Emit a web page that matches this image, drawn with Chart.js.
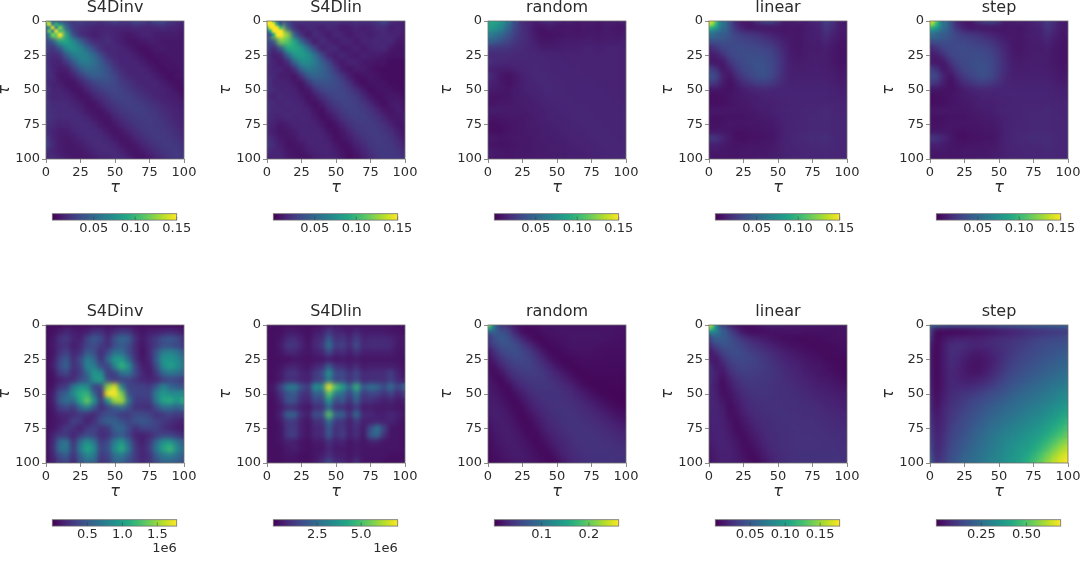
<!DOCTYPE html>
<html><head><meta charset="utf-8">
<script src="https://cdn.jsdelivr.net/npm/chart.js@4"></script>
<style>html,body{margin:0;padding:0;background:#fff;width:1080px;height:561px;overflow:hidden}canvas{position:absolute}</style>
</head><body>
<script>
const tauTicks=[0,25,50,75,100];
const titles=['S4Dinv','S4Dlin','random','linear','step'];
const topVmax=[0.15,0.15,0.15,0.15,0.15];
const bottomVmax=[1.776e6,7.08e6,0.263,0.178,0.69];
const topUnit=0.001;
const bottomUnit=[1e4,1e5,0.001,0.001,0.001];
const topCbTicks=[0.05,0.10,0.15];
const bottomCbTicks=[[0.5e6,1e6,1.5e6],[2.5e6,5e6],[0.1,0.2],[0.05,0.10,0.15],[0.25,0.50]];
const topInv=[
[110,60,40,30,25,30,25,25,20,25,30,25,25,35,30,25,35,35,25,20,15],
[60,150,110,50,25,20,18,15,15,15,15,15,15,18,15,15,15,18,15,15,12],
[35,110,150,85,35,20,15,12,15,18,15,12,10,12,15,15,12,12,12,12,10],
[30,40,85,90,70,48,28,18,18,20,15,12,8,8,10,12,12,10,10,10,10],
[30,22,38,70,78,68,50,32,20,15,18,15,12,8,6,8,10,12,10,10,10],
[25,18,20,42,62,68,64,50,32,20,16,15,15,12,8,6,8,8,10,10,10],
[22,15,14,24,42,60,62,55,42,28,20,15,15,15,12,8,6,8,8,10,10],
[25,15,12,12,26,42,52,50,45,36,25,18,15,15,15,12,8,6,8,8,10],
[22,18,10,10,14,26,38,44,43,38,30,22,17,15,15,15,12,8,6,8,10],
[18,15,12,8,8,14,22,30,34,35,32,26,22,18,15,15,15,12,8,6,8],
[25,15,15,12,8,8,15,22,27,30,31,28,25,21,18,15,15,14,12,8,6],
[22,15,17,15,12,8,8,15,20,25,28,29,28,25,21,18,15,14,13,12,8],
[25,18,18,18,15,12,8,8,14,20,24,27,28,27,25,22,19,16,14,13,12],
[22,20,18,18,18,15,10,8,8,14,20,24,26,27,27,25,22,19,16,14,13],
[25,20,18,18,18,18,15,10,8,8,15,20,23,25,26,26,24,21,18,15,14],
[22,18,15,15,18,18,18,15,10,8,10,15,19,23,25,26,25,23,20,17,14],
[20,15,12,12,15,18,18,18,15,10,8,10,15,19,23,25,25,24,22,19,16],
[28,15,12,10,12,15,18,18,18,15,10,8,10,15,19,22,25,25,24,21,18],
[30,18,12,10,10,12,15,18,18,18,15,10,8,10,15,19,22,25,25,24,20],
[20,15,12,10,10,10,12,15,18,18,18,14,10,8,10,15,19,22,25,25,23],
[15,20,15,12,10,10,10,12,14,15,18,18,14,10,8,10,15,19,23,25,25]];
const topLin=[
[150,110,45,30,20,25,20,20,25,20,22,20,20,22,20,20,25,35,20,15,12],
[100,150,130,45,20,12,18,15,12,18,15,10,12,15,12,14,18,18,12,15,12],
[35,120,150,125,45,20,10,20,15,10,18,15,10,14,15,12,15,18,15,15,10],
[30,40,120,110,90,50,25,10,20,15,10,15,15,10,15,15,18,15,18,10,10],
[30,18,40,90,92,82,55,30,12,18,18,10,12,15,10,14,15,18,10,8,8],
[25,12,15,45,78,82,76,55,32,14,12,18,12,10,14,12,12,10,8,8,8],
[22,15,10,18,48,72,72,62,45,30,14,10,15,14,10,10,8,8,5,5,5],
[20,15,15,10,20,48,60,56,48,38,24,12,8,12,12,8,6,5,5,5,5],
[20,18,12,12,8,22,42,48,45,40,32,22,12,6,8,10,8,5,5,5,5],
[25,15,15,14,10,8,22,36,38,37,34,28,20,10,5,8,8,8,5,5,5],
[22,18,15,15,14,8,10,22,30,33,33,30,26,19,11,5,8,8,8,6,5],
[18,14,18,15,15,12,6,12,20,27,30,31,29,25,18,10,6,8,10,10,6],
[22,18,15,18,15,15,10,6,12,20,26,29,29,27,23,17,10,6,10,12,8],
[22,16,18,15,18,15,14,8,6,14,20,26,28,28,26,22,16,10,8,12,10],
[20,16,14,18,15,16,15,12,6,8,14,22,26,27,27,25,21,15,10,10,12],
[18,14,10,12,15,15,15,14,10,5,8,15,21,25,26,26,24,20,14,9,10],
[18,12,8,10,12,15,15,15,14,8,6,10,16,22,25,26,26,23,19,13,8],
[22,15,10,8,10,14,15,15,15,12,6,8,12,18,22,25,26,25,22,17,10],
[25,18,12,8,8,10,14,15,15,14,10,6,8,14,18,23,25,25,24,20,14],
[20,15,15,10,8,8,12,14,15,15,12,8,6,10,15,20,24,25,25,23,18],
[12,15,15,12,10,8,8,12,14,15,14,10,6,8,12,18,22,25,25,25,22]];
const topRandom=[
[88,88,78,58,34,20,16,12,16,18,14,12,12,10,12,12,10,12,12,12,12],
[84,78,68,48,30,20,15,9,8,11,9,9,10,8,10,10,8,11,10,8,10],
[64,58,50,38,27,20,16,10,7,7,8,9,10,9,10,11,10,11,11,10,12],
[48,42,36,30,23,19,16,12,9,9,10,11,12,11,12,12,11,12,12,12,13],
[24,24,23,22,19,18,16,14,12,12,12,13,13,13,14,14,13,14,14,14,14],
[18,18,18,18,17,17,16,16,15,15,14,14,14,14,14,14,14,14,14,14,14],
[20,18,17,16,16,16,16,16,16,15,15,15,14,14,14,14,14,14,14,14,14],
[14,13,12,12,14,15,16,17,16,16,15,15,15,15,14,14,14,14,14,14,14],
[20,14,9,7,10,13,15,17,17,16,16,15,15,15,15,15,14,14,14,14,14],
[15,13,10,7,10,13,15,16,17,17,16,16,15,15,15,15,15,14,14,14,14],
[12,11,10,9,11,13,14,15,16,17,16,16,15,15,15,15,15,15,14,14,14],
[9,8,8,9,11,12,13,14,15,16,16,16,16,15,15,15,15,15,15,14,14],
[8,9,10,10,11,12,12,13,14,15,15,16,16,16,15,15,15,15,15,15,14],
[12,12,12,11,11,11,12,13,13,14,15,15,16,16,16,15,15,15,15,15,15],
[9,8,9,10,10,10,11,12,13,14,14,15,15,16,16,16,15,15,15,15,15],
[7,6,7,8,9,10,11,12,13,13,14,14,15,15,16,16,16,15,15,15,15],
[7,6,6,8,9,10,11,11,12,13,13,14,14,15,15,16,16,16,15,15,15],
[10,10,9,9,10,10,10,11,12,12,13,13,14,14,15,15,16,16,16,15,15],
[9,8,7,8,9,10,10,11,11,12,12,13,13,14,14,15,15,16,16,16,15],
[13,11,10,9,10,10,10,11,11,12,12,12,13,13,14,14,15,15,16,16,16],
[10,9,9,9,10,10,10,11,11,11,12,12,13,13,13,14,14,15,15,16,17]];
const topLinear=[
[150,100,70,36,16,10,10,22,32,34,25,12,12,14,12,16,18,28,22,12,10],
[100,95,62,38,20,12,8,9,8,8,9,9,10,9,11,13,14,24,18,11,10],
[55,55,48,38,30,26,24,22,18,15,12,10,10,9,11,13,13,20,14,10,10],
[36,36,36,34,32,31,29,27,25,22,18,13,10,9,11,12,12,16,11,9,8],
[16,22,30,32,34,34,33,32,30,28,22,15,10,9,11,12,11,13,10,8,8],
[12,12,20,30,33,35,35,35,34,31,25,17,11,10,11,12,12,12,10,8,8],
[12,8,10,22,30,33,36,37,36,33,26,18,12,11,12,12,12,12,10,8,9],
[30,22,8,14,25,31,34,37,38,34,26,18,13,12,12,13,13,12,11,9,10],
[38,34,14,8,18,26,31,35,37,33,25,17,13,13,13,13,13,13,12,10,11],
[28,24,12,6,12,19,23,27,28,26,21,16,14,14,14,14,14,14,13,11,12],
[9,9,8,7,9,12,14,16,17,16,15,15,15,15,15,15,15,15,14,13,13],
[6,6,7,8,10,11,12,13,14,14,15,15,15,15,15,15,15,15,14,14,14],
[7,6,6,8,9,10,11,13,13,13,14,14,15,15,15,15,15,16,15,15,15],
[10,10,10,9,9,9,10,11,12,13,14,15,15,15,16,16,16,18,16,15,15],
[8,7,7,8,8,8,9,10,11,11,13,14,15,15,16,17,17,18,16,16,16],
[8,7,8,9,9,9,9,9,10,10,12,14,15,16,16,17,17,17,16,16,16],
[9,9,9,9,7,7,8,8,9,9,11,14,15,16,16,17,17,17,16,16,16],
[26,24,16,10,7,6,7,7,8,8,11,14,16,17,18,19,18,20,17,16,16],
[13,13,11,9,8,8,9,9,10,10,12,14,15,16,16,17,17,18,17,16,16],
[10,10,10,9,9,10,10,10,10,11,12,14,15,15,16,16,16,17,16,16,16],
[9,8,9,9,9,10,10,11,11,12,13,14,15,15,16,16,16,17,16,16,16]];
const topStep=[
[145,98,68,36,16,10,10,22,31,33,24,12,12,14,12,16,18,27,21,12,10],
[98,92,60,38,20,12,8,9,8,8,9,9,10,9,11,13,14,23,17,11,10],
[55,55,47,38,30,26,24,22,18,15,12,10,10,9,11,13,13,19,14,10,10],
[36,36,36,34,32,31,29,27,25,22,17,13,10,9,11,12,12,15,11,9,8],
[15,22,30,32,34,34,33,32,30,27,21,15,10,9,11,12,11,13,10,8,8],
[12,12,20,30,33,34,34,34,33,30,24,17,11,10,11,12,12,12,10,8,8],
[12,8,10,22,30,32,35,36,35,32,25,18,12,11,12,12,12,12,10,8,9],
[29,21,8,14,25,31,33,36,37,33,25,18,13,12,12,13,13,12,11,9,10],
[36,33,14,8,18,26,31,34,36,32,24,17,13,13,13,13,13,13,12,10,11],
[27,23,12,6,12,19,23,27,27,25,20,16,14,14,14,14,14,14,13,11,12],
[9,9,8,7,9,12,14,16,17,16,15,15,15,15,15,15,15,15,14,13,13],
[6,6,7,8,10,11,12,13,14,14,15,15,15,15,15,15,15,15,14,14,14],
[7,6,6,8,9,10,11,13,13,13,14,14,15,15,15,15,15,16,15,15,15],
[10,10,10,9,9,9,10,11,12,13,14,15,15,15,16,16,16,17,16,15,15],
[8,7,7,8,8,8,9,10,11,11,13,14,15,15,16,17,17,17,16,16,16],
[8,7,8,9,9,9,9,9,10,10,12,14,15,16,16,17,17,17,16,16,16],
[9,9,9,9,7,7,8,8,9,9,11,14,15,16,16,17,17,17,16,16,16],
[25,23,16,10,7,6,7,7,8,8,11,14,16,17,18,19,18,19,17,16,16],
[13,13,11,9,8,8,9,9,10,10,12,14,15,16,16,17,17,18,17,16,16],
[10,10,10,9,9,10,10,10,10,11,12,14,15,15,16,16,16,17,16,16,16],
[9,8,9,9,9,10,10,11,11,12,13,14,15,15,16,16,16,17,16,16,16]];
const botInv=[
[5,5,5,8,8,8,8,8,8,8,8,8,8,8,6,6,6,6,6,5,5],
[6,8,14,20,15,12,15,25,25,15,22,30,28,15,10,14,15,18,20,18,12],
[6,10,25,30,18,15,35,50,40,20,45,60,52,25,12,22,30,45,50,42,25],
[6,12,22,25,14,20,35,42,30,22,42,50,42,20,10,20,30,42,42,38,28],
[6,10,25,35,18,25,50,42,22,40,65,65,40,22,8,20,45,75,80,70,50],
[6,12,35,50,22,40,75,60,25,60,95,95,60,25,10,18,50,90,90,85,65],
[6,14,40,55,25,35,80,75,40,35,80,115,90,35,15,14,40,85,100,88,70],
[6,10,30,38,20,30,60,95,85,30,35,65,70,40,20,12,28,60,70,65,55],
[6,8,15,20,22,40,50,90,100,40,30,35,35,28,20,18,20,32,38,35,30],
[6,10,28,32,70,90,85,35,35,145,170,80,35,35,35,30,50,80,60,50,45],
[6,15,45,55,85,110,115,60,25,178,178,140,45,35,35,35,75,95,85,85,85],
[6,15,50,65,60,105,135,90,30,90,150,155,70,30,30,30,70,105,110,90,110],
[6,12,32,40,30,60,80,50,22,35,50,65,45,25,25,22,40,65,65,55,65],
[6,10,18,20,22,30,25,20,35,45,40,30,30,40,40,35,25,30,35,30,30],
[6,10,14,18,35,30,15,25,45,55,55,45,35,45,50,45,35,30,25,20,15],
[6,10,18,30,25,15,30,35,25,30,55,60,40,25,35,35,35,25,20,15,12],
[6,18,30,28,18,30,40,35,22,25,45,50,35,18,15,20,30,35,35,30,20],
[6,20,60,70,25,65,90,70,30,40,75,95,60,25,15,28,60,90,95,70,50],
[6,22,65,72,30,75,105,85,35,45,85,110,70,30,18,30,70,100,120,85,60],
[6,18,40,50,25,55,80,70,30,35,65,70,50,30,18,25,50,70,75,65,50],
[6,15,30,35,20,45,60,55,25,30,55,55,40,30,20,25,40,55,55,50,40]];
const botLin=[
[3,3,3,3,3,3,3,3,4,5,5,4,4,4,4,4,4,4,4,3,3],
[3,3,3,5,5,4,3,5,6,12,7,7,5,8,5,5,5,5,4,4,3],
[3,3,4,8,9,6,3,7,9,20,10,11,7,13,7,8,8,8,7,5,4],
[3,3,5,11,11,7,4,8,11,27,12,14,8,17,8,9,9,9,8,5,4],
[3,3,4,7,8,5,4,6,7,16,8,9,6,10,6,6,6,6,6,4,4],
[3,3,3,3,4,4,3,4,4,6,4,5,4,5,4,4,4,4,4,4,3],
[3,3,4,6,7,5,4,7,9,20,10,9,6,9,5,6,6,6,6,5,3],
[3,3,5,10,11,7,6,12,16,36,16,16,10,15,8,9,9,9,13,7,4],
[3,3,5,9,9,7,6,12,14,30,14,16,10,15,8,9,9,9,13,8,6],
[3,5,14,28,30,18,12,36,34,71,50,40,22,46,20,26,24,16,26,14,24],
[3,4,10,18,20,11,9,22,20,52,30,24,14,28,12,15,14,10,14,8,12],
[3,3,7,18,18,9,7,16,14,38,16,20,10,22,9,10,8,6,8,5,6],
[3,3,5,9,9,6,4,9,10,24,10,10,6,12,5,6,5,5,5,4,4],
[3,3,7,22,22,9,6,18,16,52,22,22,9,26,8,8,6,6,8,6,4],
[3,3,5,12,12,6,4,10,10,26,12,11,6,12,6,6,7,6,7,5,3],
[3,3,4,11,12,6,4,8,8,20,9,12,6,10,5,16,28,14,4,4,3],
[3,3,4,12,13,6,4,8,8,20,9,13,6,10,4,20,24,10,4,4,3],
[3,3,4,6,6,4,3,5,5,10,6,7,4,6,4,6,6,4,4,4,3],
[3,3,3,5,6,4,3,4,4,8,5,5,4,5,4,4,4,4,4,4,3],
[3,3,3,4,4,3,3,4,6,10,6,6,4,6,4,4,4,4,3,3,3],
[3,3,3,4,4,3,3,5,9,16,9,8,5,10,4,4,4,3,3,3,3]];
const botRandom=[
[263,110,50,30,14,10,10,12,14,14,14,14,14,14,14,14,14,14,14,13,13],
[100,92,72,50,26,10,6,8,12,14,15,15,15,15,15,15,15,14,14,13,13],
[52,70,72,66,46,28,14,6,7,10,12,14,15,15,15,15,15,14,13,12,12],
[32,50,64,66,60,46,32,18,7,7,10,12,14,14,14,14,13,12,11,11,11],
[16,36,52,60,62,56,46,32,18,7,6,9,11,12,12,12,11,10,10,10,10],
[10,24,40,50,56,56,50,40,28,16,8,5,7,9,10,10,10,9,9,9,9],
[12,12,28,40,48,50,50,44,36,26,16,9,5,6,8,8,8,8,8,8,8],
[14,8,16,30,40,44,46,46,42,34,26,17,10,5,6,7,7,7,7,7,7],
[18,10,6,20,32,38,42,42,42,38,32,25,17,10,5,5,6,6,6,6,6],
[20,14,8,7,22,30,36,40,40,40,37,32,26,18,11,6,5,5,5,5,5],
[20,17,11,6,12,22,30,36,38,38,38,35,31,25,19,12,7,5,4,4,4],
[20,20,15,9,6,15,24,31,36,38,38,37,35,30,25,20,14,9,6,4,4],
[20,21,18,13,7,9,18,26,32,36,38,38,37,34,30,26,21,16,11,7,6],
[18,21,20,16,10,6,12,21,28,33,37,38,38,36,33,30,26,22,17,13,10],
[15,20,21,18,13,7,8,16,24,30,34,37,38,38,36,34,31,27,23,19,16],
[12,18,21,20,16,10,6,11,20,27,31,35,38,38,38,36,34,31,28,25,22],
[10,16,20,20,18,13,8,7,15,22,28,32,36,38,38,38,36,34,32,29,27],
[8,14,18,20,19,16,11,6,10,18,25,29,33,37,38,38,38,37,35,33,31],
[7,12,16,19,20,18,14,9,6,13,21,27,31,35,38,38,38,38,37,36,35],
[6,10,14,17,19,19,16,12,8,6,16,24,29,33,36,38,38,38,38,38,37],
[5,9,12,15,18,18,17,14,10,7,8,20,26,31,34,36,38,38,38,38,38]];
const botLinear=[
[178,100,42,18,9,6,7,9,12,14,14,13,12,12,11,11,10,10,10,10,10],
[90,80,60,36,22,10,6,6,7,8,8,9,9,9,8,8,8,8,8,9,9],
[40,55,52,44,34,26,20,16,13,10,8,6,6,5,5,6,6,7,8,8,8],
[20,36,44,44,40,34,28,24,20,16,13,10,8,7,6,5,5,5,6,7,7],
[10,20,34,40,42,38,33,30,26,22,18,15,12,10,8,7,6,5,5,6,6],
[16,10,24,34,38,38,36,33,29,25,21,18,15,13,11,9,8,6,5,5,5],
[24,12,16,28,34,35,34,33,30,27,24,20,18,16,13,11,10,8,6,5,4],
[26,16,10,22,29,32,32,31,29,27,25,22,19,17,15,13,11,9,8,6,4],
[24,16,6,16,24,28,30,29,28,27,25,23,21,19,17,15,13,12,10,8,6],
[22,14,6,12,20,25,27,28,27,26,25,24,22,20,19,17,15,14,12,11,9],
[20,16,7,9,16,22,25,26,26,26,25,24,23,22,20,19,17,16,15,13,12],
[19,18,11,7,13,19,23,25,25,25,25,24,24,23,22,20,19,18,17,15,14],
[18,18,14,6,10,17,21,23,24,25,25,24,24,23,23,22,21,19,18,17,16],
[17,18,15,7,8,14,19,22,23,24,25,25,24,24,23,23,22,21,20,19,18],
[16,18,16,10,6,11,16,20,22,23,24,25,25,24,24,24,23,22,21,20,19],
[16,17,16,12,6,8,13,18,21,22,24,24,25,25,24,24,24,23,22,22,21],
[15,17,17,13,8,6,11,15,19,22,23,24,24,25,25,25,24,24,23,23,22],
[13,16,17,15,11,6,8,13,18,21,23,24,24,25,25,25,25,24,24,24,23],
[11,15,17,16,12,7,6,10,16,20,22,24,24,25,25,25,25,25,25,24,24],
[9,14,16,16,13,9,5,7,13,18,21,23,24,25,25,25,25,25,25,25,25],
[7,13,16,16,14,10,7,5,10,16,20,23,24,25,26,26,26,26,26,26,26]];
const botStep=[
[205,195,175,165,155,155,155,155,155,160,170,175,180,185,190,195,200,200,205,205,205],
[150,15,15,14,16,20,25,30,35,42,50,58,66,75,85,92,100,108,115,120,125],
[110,15,38,55,62,62,62,62,68,78,85,90,95,105,115,125,135,140,145,150,155],
[70,14,50,82,90,85,75,70,75,80,90,100,110,120,130,140,150,160,165,170,175],
[60,14,50,88,85,70,55,50,55,70,85,100,115,130,140,150,160,170,180,190,195],
[55,15,50,85,75,55,42,38,45,60,85,105,125,140,150,165,175,185,195,205,215],
[55,15,48,80,70,50,38,36,45,65,90,115,135,150,165,175,190,200,210,220,230],
[60,15,48,75,65,50,42,42,55,80,105,130,150,165,180,190,205,215,230,240,250],
[60,18,48,75,70,60,60,65,80,100,125,145,165,180,195,210,220,235,245,260,270],
[65,20,48,75,80,80,85,95,110,125,145,165,185,200,215,230,240,255,270,285,295],
[75,25,55,85,95,105,115,130,140,160,175,190,205,220,235,245,260,275,290,310,320],
[85,30,62,90,105,120,135,150,165,180,195,210,225,240,250,265,280,295,310,330,345],
[90,38,70,100,115,130,150,165,185,200,215,230,245,260,275,285,300,315,335,355,375],
[100,45,75,105,125,145,160,180,200,215,230,245,260,275,290,305,320,340,360,385,410],
[110,55,80,115,135,155,175,195,215,235,250,265,280,295,310,325,340,365,390,420,450],
[120,60,85,125,145,165,190,210,230,250,265,285,300,315,330,345,365,390,420,450,490],
[135,65,95,130,155,175,200,225,245,265,285,300,315,330,350,365,390,420,455,490,530],
[150,70,100,140,165,190,210,235,255,275,295,315,330,350,365,390,420,455,500,540,580],
[165,75,105,150,175,200,225,245,265,285,305,325,345,365,385,410,450,495,545,590,625],
[185,85,115,160,185,215,235,255,275,295,315,335,355,375,405,440,490,540,590,635,665],
[210,100,125,170,195,225,245,265,285,305,325,345,365,390,425,470,520,575,625,665,690]];
const fineTopInv=[[150,100,50,40,35],[100,150,60,100,70],[50,70,150,60,120],[40,120,60,150,100],[35,70,120,110,150]];
const fineTopLin=[[150,150,100,40,30],[150,150,150,90,40],[90,150,150,150,100],[40,90,150,150,150],[30,40,90,150,150]];
const fineTopLinear=[[150,145,115,75,55],[135,125,100,72,55],[105,95,85,66,52],[75,68,62,55,48],[55,52,48,44,42]];
const fineTopStep=[[148,140,110,75,55],[132,120,98,72,55],[102,92,82,66,52],[75,68,62,55,48],[55,52,48,44,42]];
const fineBotRandom=[[263,180,100,60,40],[170,130,90,65,50],[90,85,80,70,60],[50,60,68,72,70],[40,48,60,68,72]];
const fineBotLinear=[[178,150,95,50,30],[150,120,90,60,45],[90,85,80,65,50],[50,60,62,58,52],[30,42,50,52,50]];

const topGrids=[topInv,topLin,topRandom,topLinear,topStep];
const botGrids=[botInv,botLin,botRandom,botLinear,botStep];
const topFine=[fineTopInv,fineTopLin,null,fineTopLinear,fineTopStep];
const botFine=[null,null,fineBotRandom,fineBotLinear,null];
const topBlur=[2.2,2.2,2.6,2.6,2.6];
const botBlur=[2.8,2.8,2.4,2.4,2.4];

const plotLeft=[46,267,488,709,930];
const plotSize=138, sidePad=46, titleBox=21, xBox=38;
const rowTop=[0,304];
const cbTop=[213.7,519.7], cbInset=6.3, cbW=124.4, cbH=6.4;
const FONT='"DejaVu Sans"', TXT='#2b2b2b', EDGE='#6f6f6f';
const VIR=['#440154','#482475','#414487','#355f8d','#2a788e','#21918c','#22a884','#44bf70','#7ad151','#bddf26','#fde725'];
function hex(c){return [1,3,5].map(i=>parseInt(c.substr(i,2),16));}
function viridis(f){f=Math.max(0,Math.min(1,f));const p=f*10,i=Math.min(9,Math.floor(p)),t=p-i,a=hex(VIR[i]),b=hex(VIR[i+1]);
  return 'rgb('+a.map((v,k)=>Math.round(v+(b[k]-v)*t)).join(',')+')';}
function cells(g,step,unit,vmax){const pts=[],cols=[];g.forEach((r,j)=>r.forEach((v,i)=>{pts.push({x:i*step,y:j*step});cols.push(viridis(v*unit/vmax));}));return {pts,cols};}
function ds(g,step,unit,vmax,blur,order){const c=cells(g,step,unit,vmax);return {data:c.pts,pointStyle:'rect',pointBackgroundColor:c.cols,pointBorderWidth:0,borderWidth:0,clip:0,order,blur,
  pointRadius:(ctx)=>{const s=ctx.chart.scales.x;return Math.abs(s.getPixelForValue(step)-s.getPixelForValue(0))/Math.SQRT2+0.35;}};}
const smooth={id:'smooth',afterDatasetDraw(chart,args){const b=chart.data.datasets[args.index].blur,a=chart.chartArea,c=chart.ctx;if(!b)return;
  c.save();c.beginPath();c.rect(a.left,a.top,a.width,a.height);c.clip();c.filter='blur('+b+'px)';
  c.drawImage(chart.canvas,a.left,a.top,a.width,a.height,a.left,a.top,a.width,a.height);c.restore();}};
const frame={id:'frame',afterDraw(chart){const a=chart.chartArea,c=chart.ctx;c.save();c.strokeStyle=EDGE;c.lineWidth=0.8;c.strokeRect(a.left,a.top,a.width,a.height);c.restore();}};
function mk(left,top,w,h){const el=document.createElement('canvas');el.style.left=left+'px';el.style.top=top+'px';el.style.width=w+'px';el.style.height=h+'px';el.width=w;el.height=h;document.body.appendChild(el);return el;}
function panel(i,row,grid,fine,unit,vmax,blur){
  const datasets=[ds(grid,5,unit,vmax,blur,1)];
  if(fine)datasets.unshift(ds(fine,2.5,unit,vmax,1.0,0));
  const el=mk(plotLeft[i]-sidePad,rowTop[row],plotSize+2*sidePad,titleBox+plotSize+xBox);
  const tk={color:TXT,font:{family:FONT,size:13},autoSkip:false,maxRotation:0,padding:2,stepSize:25};
  const gr={drawOnChartArea:false,drawTicks:true,tickLength:4,color:EDGE,lineWidth:0.8};
  const ttlX={display:true,text:'τ',color:TXT,font:{family:FONT,size:16,style:'italic'},padding:0};
  const ttlY={display:true,text:'τ',color:TXT,font:{family:FONT,size:16,style:'italic',lineHeight:0.55},padding:0};
  new Chart(el,{type:'scatter',data:{datasets},plugins:[smooth,frame],options:{responsive:false,animation:false,
    layout:{padding:0},
    plugins:{legend:{display:false},tooltip:{enabled:false},title:{display:true,text:titles[i],color:TXT,font:{family:FONT,size:16,weight:'normal',lineHeight:1},padding:{top:0,bottom:titleBox-16}}},
    scales:{
      x:{type:'linear',min:0,max:100,afterBuildTicks(s){s.ticks=tauTicks.map(v=>({value:v}));},ticks:tk,grid:gr,border:{display:false},title:ttlX,afterFit(s){s.height=xBox;s.paddingLeft=0;s.paddingRight=0;}},
      y:{type:'linear',reverse:true,min:0,max:100,afterBuildTicks(s){s.ticks=tauTicks.map(v=>({value:v}));},ticks:tk,grid:gr,border:{display:false},title:ttlY,afterFit(s){s.width=sidePad;s.paddingTop=0;s.paddingBottom=0;}},
      yR:{type:'linear',position:'right',min:0,max:100,ticks:{display:false},grid:{display:false},border:{display:false},afterFit(s){s.width=sidePad;s.paddingTop=0;s.paddingBottom=0;}}
    }}});
}
function colorbar(i,row,vmax,ticks,dec,offsetText){
  const xH=30;
  const leftEdge=plotLeft[i]+cbInset, canvasLeft=Math.floor(leftEdge)-40, canvasTop=Math.floor(cbTop[row])-4;
  const padL=leftEdge-canvasLeft, padT=cbTop[row]-canvasTop, w=Math.ceil(padL+cbW+40), padR=w-padL-cbW, h=Math.ceil(padT+cbH+xH);
  const el=mk(canvasLeft,canvasTop,w,h);
  const grad=(ctx)=>{const a=ctx.chart.chartArea;if(!a)return VIR[0];const g=ctx.chart.ctx.createLinearGradient(a.left,0,a.right,0);VIR.forEach((c,k)=>g.addColorStop(k/10,c));return g;};
  const inner={id:'inner',afterDatasetsDraw(chart){const a=chart.chartArea,c=chart.ctx,s=chart.scales.x;c.save();c.strokeStyle='#33333399';c.lineWidth=0.8;
    ticks.forEach(v=>{const x=s.getPixelForValue(v);c.beginPath();c.moveTo(x,a.bottom);c.lineTo(x,a.top+a.height*0.45);c.stroke();});c.restore();}};
  new Chart(el,{type:'bar',data:{labels:['cb'],datasets:[{data:[[0,vmax]],backgroundColor:grad,barPercentage:1,categoryPercentage:1,borderWidth:0}]},plugins:[inner,frame],options:{
    indexAxis:'y',responsive:false,animation:false,layout:{padding:{left:padL,right:padR,top:padT,bottom:h-padT-cbH-xH}},
    plugins:{legend:{display:false},tooltip:{enabled:false}},
    scales:{y:{display:false,stacked:false},
      x:{type:'linear',min:0,max:vmax,afterBuildTicks(s){s.ticks=ticks.map(v=>({value:v}));},
        ticks:{color:TXT,font:{family:FONT,size:13},autoSkip:false,maxRotation:0,padding:1,callback:(v)=>(offsetText?v/offsetText:v).toFixed(dec)},
        grid:{display:false,drawTicks:false},border:{display:false},
        title:{display:!!offsetText,text:'1e6',align:'end',color:TXT,font:{family:FONT,size:13},padding:{top:4,bottom:0}},
        afterFit(s){s.height=xH;s.paddingLeft=0;s.paddingRight=0;}}
    }}});
}
const botDec=[1,1,1,2,2];
for(let i=0;i<5;i++){
  panel(i,0,topGrids[i],topFine[i],topUnit,topVmax[i],topBlur[i]);
  panel(i,1,botGrids[i],botFine[i],bottomUnit[i],bottomVmax[i],botBlur[i]);
  colorbar(i,0,topVmax[i],topCbTicks,2,0);
  colorbar(i,1,bottomVmax[i],bottomCbTicks[i],botDec[i],i<2?1e6:0);
}
</script>
</body></html>
